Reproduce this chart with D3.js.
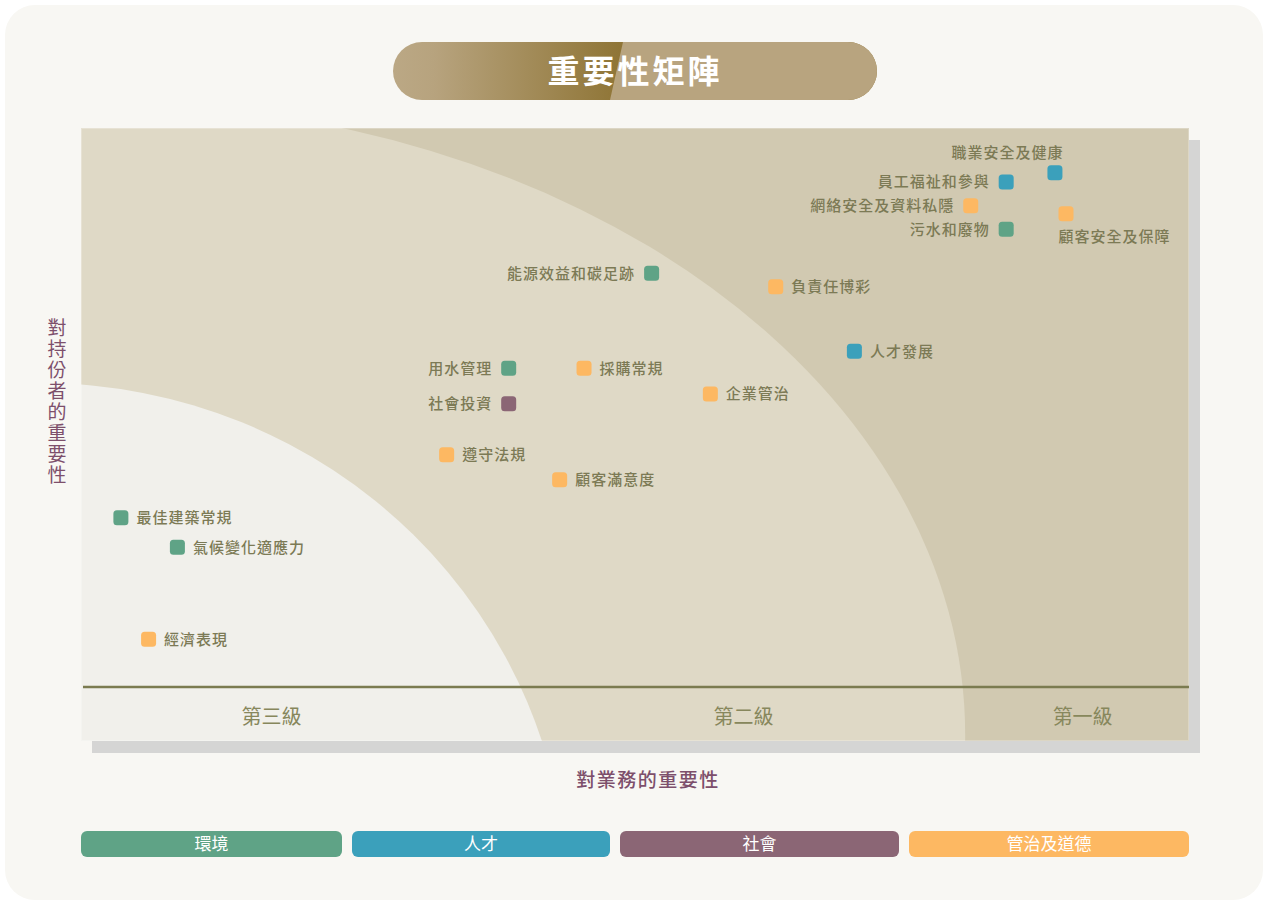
<!DOCTYPE html>
<html>
<head>
<meta charset="utf-8">
<script src="https://cdn.jsdelivr.net/npm/d3@7"></script>
<style>
  body { margin: 0; background: #ffffff; }
  svg text { font-family: "Noto Sans CJK TC", "Noto Sans", sans-serif; }
</style>
</head>
<body>
<svg id="chart" width="1265" height="903"></svg>
<script>
// ---- data ----
const topics = ['職業安全及健康', '員工福祉和參與', '網絡安全及資料私隱', '顧客安全及保障', '污水和廢物',
  '能源效益和碳足跡', '負責任博彩', '人才發展', '用水管理', '採購常規', '企業管治', '社會投資',
  '遵守法規', '顧客滿意度', '最佳建築常規', '氣候變化適應力', '經濟表現'];
// importance to business (x) and to stakeholders (y), 0-10
const bizScore = [8.79, 8.35, 8.03, 8.89, 8.35, 5.15, 6.27, 6.98, 3.86, 4.54, 5.68, 3.86, 3.30, 4.32, 0.36, 0.87, 0.61];
const stakeScore = [9.27, 9.12, 8.73, 8.60, 8.35, 7.63, 7.41, 6.36, 6.08, 6.08, 5.66, 5.50, 4.67, 4.26, 3.64, 3.16, 1.66];
const topicGroup = ['人才', '人才', '管治及道德', '管治及道德', '環境', '環境', '管治及道德', '人才', '環境',
  '管治及道德', '管治及道德', '社會', '管治及道德', '管治及道德', '環境', '環境', '管治及道德'];
const labelSide = ['top', 'left', 'left', 'bottom', 'left', 'left', 'right', 'right', 'left',
  'right', 'right', 'left', 'right', 'right', 'right', 'right', 'right'];

const groups = ['環境', '人才', '社會', '管治及道德'];
const groupColors = ['#5fa386', '#3ba0bb', '#8b6675', '#fdb862'];

const tiers = ['第三級', '第二級', '第一級'];
const tierCenter = [1.72, 5.98, 9.04];

const titleText = '重要性矩陣';
const xTitle = '對業務的重要性';
const yTitle = '對持份者的重要性';

// ---- layout ----
const svg = d3.select('#chart');
const plot = { left: 81, top: 128, right: 1189, bottom: 741 };
const bandY = 687;

const x = d3.scaleLinear().domain([0, 10]).range([plot.left, plot.right]);
const y = d3.scaleLinear().domain([0, 10]).range([plot.bottom, plot.top]);
const color = d3.scaleOrdinal().domain(groups).range(groupColors);

const defs = svg.append('defs');

// card
svg.append('rect')
  .attr('x', 5).attr('y', 5).attr('width', 1258).attr('height', 895)
  .attr('rx', 30).attr('fill', '#f8f7f3');

// title pill
const grad = defs.append('linearGradient').attr('id', 'titleGrad')
  .attr('gradientUnits', 'userSpaceOnUse')
  .attr('x1', 393).attr('x2', 620).attr('y1', 0).attr('y2', 0);
grad.append('stop').attr('offset', '0%').attr('stop-color', '#bba885');
grad.append('stop').attr('offset', '18%').attr('stop-color', '#b7a37e');
grad.append('stop').attr('offset', '100%').attr('stop-color', '#8f7536');

defs.append('clipPath').attr('id', 'pillClip')
  .append('rect').attr('x', 393).attr('y', 42).attr('width', 484).attr('height', 58).attr('rx', 29);

const pill = svg.append('g').attr('clip-path', 'url(#pillClip)');
pill.append('rect').attr('x', 393).attr('y', 42).attr('width', 484).attr('height', 58)
  .attr('fill', 'url(#titleGrad)');
pill.append('path').attr('d', 'M623,42 L877,42 L877,100 L610,100 Z').attr('fill', '#b8a47f');
svg.append('text')
  .attr('x', 635).attr('y', 71).attr('dy', '0.36em')
  .attr('text-anchor', 'middle')
  .attr('fill', '#ffffff').attr('font-size', 32).attr('font-weight', 700)
  .attr('letter-spacing', 3)
  .text(titleText);

// shadow + plot background
svg.append('rect')
  .attr('x', plot.left + 11).attr('y', plot.top + 12)
  .attr('width', plot.right - plot.left).attr('height', plot.bottom - plot.top)
  .attr('fill', '#d5d5d4');

defs.append('clipPath').attr('id', 'plotClip')
  .append('rect').attr('x', plot.left).attr('y', plot.top)
  .attr('width', plot.right - plot.left).attr('height', plot.bottom - plot.top);

const zones = svg.append('g').attr('clip-path', 'url(#plotClip)');
zones.append('rect')
  .attr('x', plot.left).attr('y', plot.top)
  .attr('width', plot.right - plot.left).attr('height', plot.bottom - plot.top)
  .attr('fill', '#d1c9b1');
// tier zones as ellipses in data space (centre and radii in data units)
const zoneDefs = [
  { cx: 0.17, cy: 0.10, rx: 7.81, ry: 10.31, fill: '#dfd9c6' },
  { cx: -0.37, cy: -2.59, rx: 4.76, ry: 8.43, fill: '#f1f0eb' }
];
zones.selectAll('ellipse.zone').data(zoneDefs).join('ellipse')
  .attr('class', 'zone')
  .attr('cx', d => x(d.cx)).attr('cy', d => y(d.cy))
  .attr('rx', d => x(d.rx) - x(0))
  .attr('ry', d => y(0) - y(d.ry))
  .attr('fill', d => d.fill);

// faint plot edge
svg.append('rect')
  .attr('x', plot.left + 0.5).attr('y', plot.top + 0.5)
  .attr('width', plot.right - plot.left - 1).attr('height', plot.bottom - plot.top - 1)
  .attr('fill', 'none').attr('stroke', '#ffffff').attr('stroke-opacity', 0.25);

// band line
svg.append('line')
  .attr('x1', plot.left + 2).attr('x2', plot.right)
  .attr('y1', bandY).attr('y2', bandY)
  .attr('stroke', '#7b7b50').attr('stroke-width', 2.5);

// tier labels
svg.selectAll('text.tier').data(tiers).join('text')
  .attr('class', 'tier')
  .attr('x', (d, i) => x(tierCenter[i]))
  .attr('y', 717).attr('dy', '0.36em')
  .attr('text-anchor', 'middle')
  .attr('fill', '#87875c').attr('font-size', 20)
  .text(d => d);

// points
const pts = topics.map((t, i) => ({
  name: t, bx: bizScore[i], sy: stakeScore[i], group: topicGroup[i], side: labelSide[i]
}));

const m = 15;
const node = svg.selectAll('g.pt').data(pts).join('g')
  .attr('class', 'pt')
  .attr('transform', d => `translate(${x(d.bx)},${y(d.sy)})`);

node.append('rect')
  .attr('x', -m / 2).attr('y', -m / 2).attr('width', m).attr('height', m)
  .attr('rx', 3.5)
  .attr('fill', d => color(d.group));

node.append('text')
  .attr('x', d => d.side === 'left' ? -m / 2 - 9 : d.side === 'right' ? m / 2 + 8
    : d.side === 'top' ? m / 2 + 1 : -m / 2)
  .attr('y', d => d.side === 'top' ? -20 : d.side === 'bottom' ? 23 : 0)
  .attr('dy', '0.36em')
  .attr('text-anchor', d => d.side === 'left' || d.side === 'top' ? 'end' : 'start')
  .attr('fill', '#7c7a55').attr('font-size', 15).attr('font-weight', 500)
  .attr('letter-spacing', 1)
  .text(d => d.name);

// axis titles
svg.append('text')
  .attr('x', 648).attr('y', 780).attr('dy', '0.36em')
  .attr('text-anchor', 'middle')
  .attr('fill', '#7d4f6b').attr('font-size', 19).attr('font-weight', 500)
  .attr('letter-spacing', 1.5)
  .text(xTitle);

svg.append('text')
  .attr('x', 57).attr('y', 402)
  .attr('text-anchor', 'middle')
  .style('writing-mode', 'vertical-rl')
  .attr('fill', '#7d4f6b').attr('font-size', 19).attr('font-weight', 400)
  .attr('letter-spacing', 2)
  .text(yTitle);

// legend
const legendW = [261, 258, 279, 280];
let lx = plot.left;
const legendX = legendW.map(w => { const v = lx; lx += w + 10; return v; });
const leg = svg.selectAll('g.leg').data(groups).join('g')
  .attr('class', 'leg')
  .attr('transform', (d, i) => `translate(${legendX[i]},831)`);
leg.append('rect')
  .attr('width', (d, i) => legendW[i]).attr('height', 26).attr('rx', 6)
  .attr('fill', d => color(d));
leg.append('text')
  .attr('x', (d, i) => legendW[i] / 2).attr('y', 13).attr('dy', '0.36em')
  .attr('text-anchor', 'middle')
  .attr('fill', '#ffffff').attr('font-size', 17)
  .text(d => d);
</script>
</body>
</html>
